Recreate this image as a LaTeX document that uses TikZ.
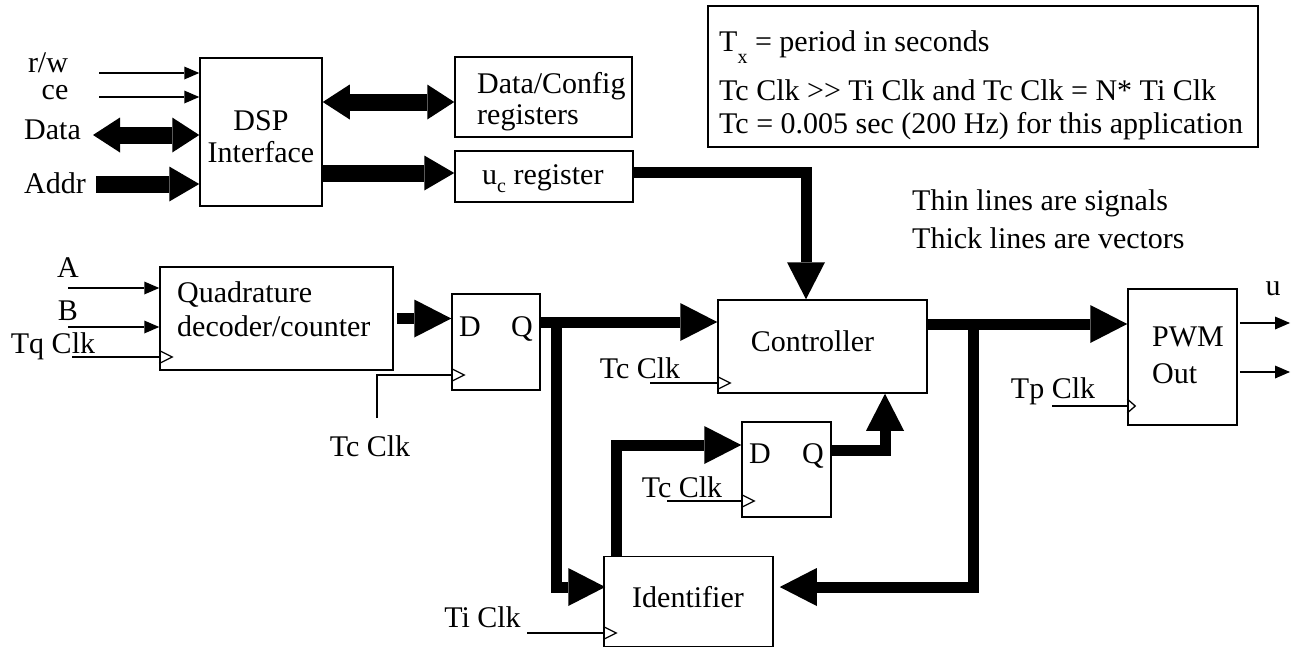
\documentclass[tikz,border=0pt]{standalone}
\usepackage{fontspec}
\setmainfont{Liberation Serif}
\usetikzlibrary{arrows.meta,calc}
\tikzset{
  blk/.style={draw, line width=1.5pt, inner sep=0pt, rectangle},
  vec/.style={line width=11pt, -{Triangle[width=38pt,length=37pt,line width=0pt]}},
  bus/.style={line width=17pt, -{Triangle[width=35pt,length=30pt,line width=0pt]}},
  busboth/.style={line width=17pt, {Triangle[width=35pt,length=27pt,line width=0pt]}-{Triangle[width=35pt,length=27pt,line width=0pt]}},
  sig/.style={line width=1.3pt, -{Triangle[width=13pt,length=15pt,line width=0pt]}},
  wire/.style={line width=1.3pt},
  lbl/.style={inner sep=0pt, anchor=base},
  lbll/.style={inner sep=0pt, anchor=base west},
  clk/.pic={\draw[line width=1.3pt, line join=miter] (0,-6.5) -- (13,0) -- (0,6.5);},
  clks/.pic={\draw[line width=1.3pt, line join=miter] (0,-7) -- (8,0) -- (0,7);}
}
\begin{document}
\begin{tikzpicture}[x=1pt,y=-1pt,font=\fontsize{30}{36}\selectfont]
\useasboundingbox (0,0) rectangle (1292,648);
\fill[white] (0,0) rectangle (1292,648);

% blocks
\node[blk, minimum width=122pt, minimum height=148pt] (dsp) at (261,132) {};
\node[blk, minimum width=177pt, minimum height=80pt] (dcfg) at (543.5,97) {};
\node[blk, minimum width=178pt, minimum height=51pt] (ucreg) at (544,176.5) {};
\node[blk, minimum width=550pt, minimum height=141pt] (note) at (983,76.5) {};
\node[blk, minimum width=233pt, minimum height=103pt] (quad) at (276.5,318.5) {};
\node[blk, minimum width=88pt, minimum height=96pt] (dq1) at (496,342) {};
\node[blk, minimum width=209pt, minimum height=93pt] (ctrl) at (822.5,346.5) {};
\node[blk, minimum width=89pt, minimum height=95pt] (dq2) at (786.5,469.5) {};
\node[blk, minimum width=169pt, minimum height=90pt] (ident) at (688.5,601.5) {};
\node[blk, minimum width=109pt, minimum height=136pt] (pwm) at (1182.5,357) {};

% texts
\node[lbl, text depth=0pt] (trw) at (48,72) {r/w};
\node[lbl] (tce) at (55,99) {ce};
\node[lbl] (tdata) at (52.5,139.5) {Data};
\node[lbl] (taddr) at (55,193) {Addr};
\node[lbl] (tdsp1) at (261,130) {DSP};
\node[lbl] (tdsp2) at (261,162) {Interface};
\node[lbll] (tdc1) at (477,93) {Data/Config};
\node[lbll] (tdc2) at (477,124) {registers};
\node[lbll] (tuc) at (482,184) {u\raisebox{-8pt}{\fontsize{20}{20}\selectfont c} register};
\node[lbll] (n1) at (719,51) {T\raisebox{-12pt}{\fontsize{20}{20}\selectfont x} = period in seconds};
\node[lbll] (n2) at (719,100) {Tc Clk >{}> Ti Clk and Tc Clk = N* Ti Clk};
\node[lbll] (n3) at (719,133) {Tc = 0.005 sec (200 Hz) for this application};
\node[lbll] (thin) at (912,210) {Thin lines are signals};
\node[lbll] (thick) at (912,248) {Thick lines are vectors};
\node[lbl] (ta) at (68,277) {A};
\node[lbl] (tb) at (68,320) {B};
\node[lbl] (ttq) at (53,353) {Tq Clk};
\node[lbll] (tq1) at (177,302) {Quadrature};
\node[lbll] (tq2) at (177,336) {decoder/counter};
\node[lbl] (td1) at (470,336) {D};
\node[lbl] (tqq1) at (522,336) {Q};
\node[lbl] (ttc1) at (370,456) {Tc Clk};
\node[lbl] (tctrl) at (812.5,351) {Controller};
\node[lbl] (ttc2) at (640,378) {Tc Clk};
\node[lbl] (td2) at (760,463.5) {D};
\node[lbl] (tqq2) at (813,463.5) {Q};
\node[lbl] (ttc3) at (682,497) {Tc Clk};
\node[lbl] (tid) at (688,607) {Identifier};
\node[lbl] (tti) at (482.5,627) {Ti Clk};
\node[lbll] (tpwm1) at (1152,346) {PWM};
\node[lbll] (tpwm2) at (1152,383) {Out};
\node[lbl] (ttp) at (1053,398) {Tp Clk};
\node[lbl] (tu) at (1273,295) {u};

% free ends
\coordinate (rwS) at (99,73);
\coordinate (ceS) at (99,97);
\coordinate (dataS) at (93,135);
\coordinate (addrS) at (96,184);
\coordinate (aS) at (68,288);
\coordinate (bS) at (68,327);
\coordinate (tqS) at (72,357);
\coordinate (tc1S) at (377,418);
\coordinate (tc2S) at (650,383);
\coordinate (tc3S) at (667,501);
\coordinate (tiS) at (527,633);
\coordinate (tpS) at (1052,406);
\coordinate (out1) at (1290,323);
\coordinate (out2) at (1290,372);

% DSP interface
\draw[sig] (rwS) -- (rwS -| dsp.west);
\draw[sig] (ceS) -- (ceS -| dsp.west);
\draw[busboth] (dataS) -- (dataS -| dsp.west);
\draw[bus] (addrS) -- (addrS -| dsp.west);
\draw[busboth] ($(dsp.east)+(0,-30)$) -- ($(dcfg.west)+(0,5)$);
\draw[bus] ($(dsp.east)+(0,41)$) -- ($(ucreg.west)+(0,-3.5)$);

% vectors
\draw[vec] ($(ucreg.east)+(0,-4.5)$) -| ($(ctrl.north)+(-16.5,0)$);
\draw[vec] ($(quad.east)+(3,0)$) -- (quad.east -| dq1.west);
\coordinate (qout) at ($(dq1.east)+(0,-20)$);
\draw[vec] (qout) -- (qout -| ctrl.west);
\draw[vec] ($(qout)+(16,0)$) |- ($(ident.west)+(2,-14.5)$);
\draw[vec] ($(ident.north)+(-72.5,0)$) |- ($(dq2.west)+(0,-24.5)$);
\draw[vec] ($(dq2.east)+(0,-19.5)$) -| ($(ctrl.south)+(62.5,0)$);
\draw[vec] ($(ctrl.east)+(0,-22.5)$) -- ($(pwm.west)+(0,-33)$);
\draw[vec] ($(ctrl.east)+(46,-22.5)$) |- ($(ident.east)+(6,-14.5)$);

% signals
\draw[sig] (aS) -- (aS -| quad.west);
\draw[sig] (bS) -- (bS -| quad.west);
\draw[wire] (tqS) -- (tqS -| quad.west);
\pic at (tqS -| quad.west) {clk};
\draw[wire] (tc1S) |- ($(dq1.west)+(0,33)$);
\pic at ($(dq1.west)+(0,33)$) {clk};
\draw[wire] (tc2S) -- (tc2S -| ctrl.west);
\pic at (tc2S -| ctrl.west) {clk};
\draw[wire] (tc3S) -- (tc3S -| dq2.west);
\pic at (tc3S -| dq2.west) {clk};
\draw[wire] (tiS) -- (tiS -| ident.west);
\pic at (tiS -| ident.west) {clk};
\draw[wire] (tpS) -- (tpS -| pwm.west);
\pic at (tpS -| pwm.west) {clks};
\draw[sig] ($(pwm.east)+(2,-34)$) -- (out1);
\draw[sig] ($(pwm.east)+(2,15)$) -- (out2);
\end{tikzpicture}
\end{document}
